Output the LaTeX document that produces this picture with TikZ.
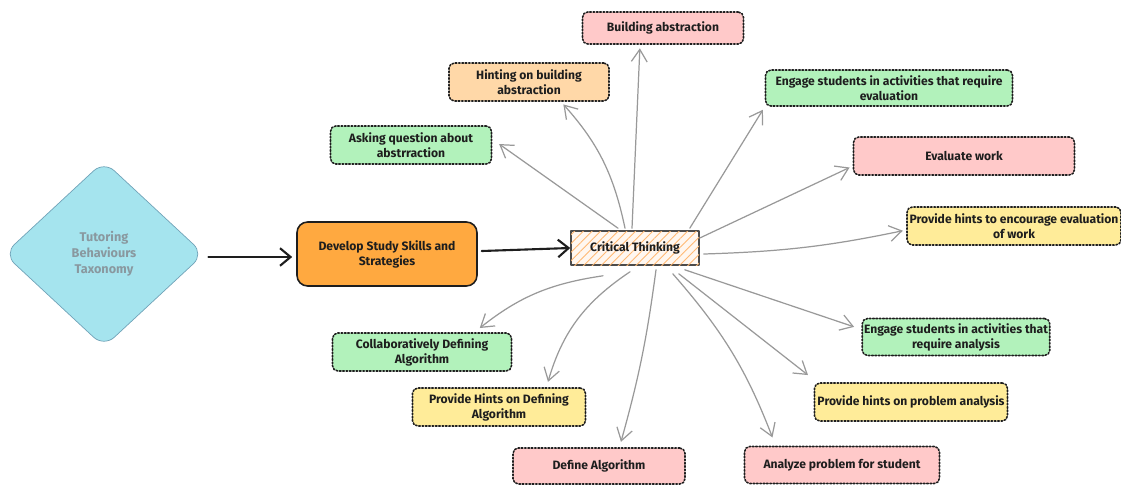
\documentclass[tikz,border=0pt]{standalone}
\usepackage{fontspec}
\setmainfont{Fira Sans}
\usetikzlibrary{shapes.geometric,arrows.meta,patterns.meta,calc}
\definecolor{grn}{HTML}{B2F2BB}
\definecolor{pnk}{HTML}{FFC9C9}
\definecolor{pch}{HTML}{FFD8A8}
\definecolor{ylw}{HTML}{FFEC99}
\definecolor{org}{HTML}{FFA940}
\definecolor{cyn}{HTML}{A5E4EE}
\definecolor{ink}{HTML}{1E1E1E}
\begin{document}
\begin{tikzpicture}[x=0.02cm, y=-0.02cm, font=\bfseries\fontsize{6.9}{8.6}\selectfont, line join=round, line cap=round,
box/.style={draw=ink, densely dotted, line width=0.9pt, rounded corners=3pt, align=center, text=ink, inner sep=1pt},
arr/.style={draw=gray!80, line width=0.7pt, -{Straight Barb[length=7pt,width=9pt]}, shorten >=2pt},
blk/.style={draw=ink, line width=1.2pt, -{Straight Barb[length=6pt,width=10pt]}}]
\useasboundingbox (0,0) rectangle (1121,484);
% main chain
\node[diamond, draw=gray!60!cyan, fill=cyn, rounded corners=8pt, minimum width=4.0cm, minimum height=3.72cm, text=gray!85!cyan, align=center, font=\bfseries\fontsize{7.2}{9}\selectfont] (tbt) at (104,254) {Tutoring\\Behaviours\\Taxonomy};
\node[draw=ink, fill=org, line width=0.9pt, rounded corners=6pt, minimum width=3.6cm, minimum height=1.28cm, align=center, text=ink] (dss) at (387,254) {Develop Study Skills and\\Strategies};
\node[draw=ink!80, fill=orange!6, line width=0.9pt, minimum width=2.56cm, minimum height=0.68cm, text=ink, postaction={pattern={Lines[angle=45,distance=3.5pt,line width=0.5pt]}, pattern color=orange!55}] (ct) at (635,248) {Critical Thinking};
\draw[blk] ($(tbt.east)+(4,3)$) -- ($(dss.west)+(-4,3)$);
\draw[blk] ($(dss.east)+(4,-3)$) -- (ct.west);
% upper branches
\node[box, fill=pnk, minimum width=3.22cm, minimum height=0.64cm] (ba) at (663,28) {Building abstraction};
\node[box, fill=pch, minimum width=3.2cm, minimum height=0.76cm] (hba) at (529,82) {Hinting on building\\abstraction};
\node[box, fill=grn, minimum width=3.22cm, minimum height=0.76cm] (aqa) at (411,145) {Asking question about\\abstrraction};
\node[box, fill=grn, minimum width=4.94cm, minimum height=0.72cm] (esev) at (889,88) {Engage students in activities that require\\evaluation};
\node[box, fill=pnk, minimum width=4.42cm, minimum height=0.76cm] (evw) at (964,156) {Evaluate work};
\node[box, fill=ylw, minimum width=4.28cm, minimum height=0.76cm] (phev) at (1014,226) {Provide hints to encourage evaluation\\of work};
% lower branches
\node[box, fill=grn, minimum width=3.34cm, minimum height=0.74cm] (esan) at (956,337) {Engage students in activities that\\require analysis};
\node[box, fill=ylw, minimum width=3.86cm, minimum height=0.76cm] (phpa) at (911,402) {Provide hints on problem analysis};
\node[box, fill=pnk, minimum width=3.9cm, minimum height=0.74cm] (aps) at (842,465) {Analyze problem for student};
\node[box, fill=pnk, minimum width=3.44cm, minimum height=0.72cm] (da) at (599,466) {Define Algorithm};
\node[box, fill=ylw, minimum width=3.46cm, minimum height=0.76cm] (phda) at (499,407) {Provide Hints on Defining\\Algorithm};
\node[box, fill=grn, minimum width=3.58cm, minimum height=0.76cm] (cda) at (422,352) {Collaboratively Defining\\Algorithm};
% connectors
\draw[arr] ($(ct.north)+(-3,-2)$) -- ($(ba.south)+(-23,0)$);
\draw[arr] ($(ct.north)+(-10,-2)$) to[bend right=15] ($(hba.south)+(32,0)$);
\draw[arr] ($(ct.north)+(-17,-2)$) -- ($(aqa.east)+(4,-3)$);
\draw[arr] ($(ct.north east)+(-10,-2)$) -- (esev.south west);
\draw[arr] ($(ct.east)+(0,-10)$) -- ($(evw.west)+(0,10)$);
\draw[arr] ($(ct.east)+(4,6)$) to[bend right=5] ($(phev.west)+(0,4)$);
\draw[arr] ($(ct.south east)+(-15,4)$) -- ($(esan.west)+(-4,-9)$);
\draw[arr] ($(ct.south east)+(-21,8)$) -- ($(phpa.north west)+(-3,-5)$);
\draw[arr] ($(ct.south east)+(-27,8)$) to[bend left=10] ($(aps.north west)+(30,-5)$);
\draw[arr] ($(ct.south)+(21,4)$) to[bend left=4] ($(da.north)+(21,-2)$);
\draw[arr] ($(ct.south)+(-5,6)$) to[bend right=20] ($(phda.north)+(48,-2)$);
\draw[arr] ($(ct.south)+(-32,10)$) to[bend right=15] ($(cda.north)+(55,-2)$);
\end{tikzpicture}
\end{document}
